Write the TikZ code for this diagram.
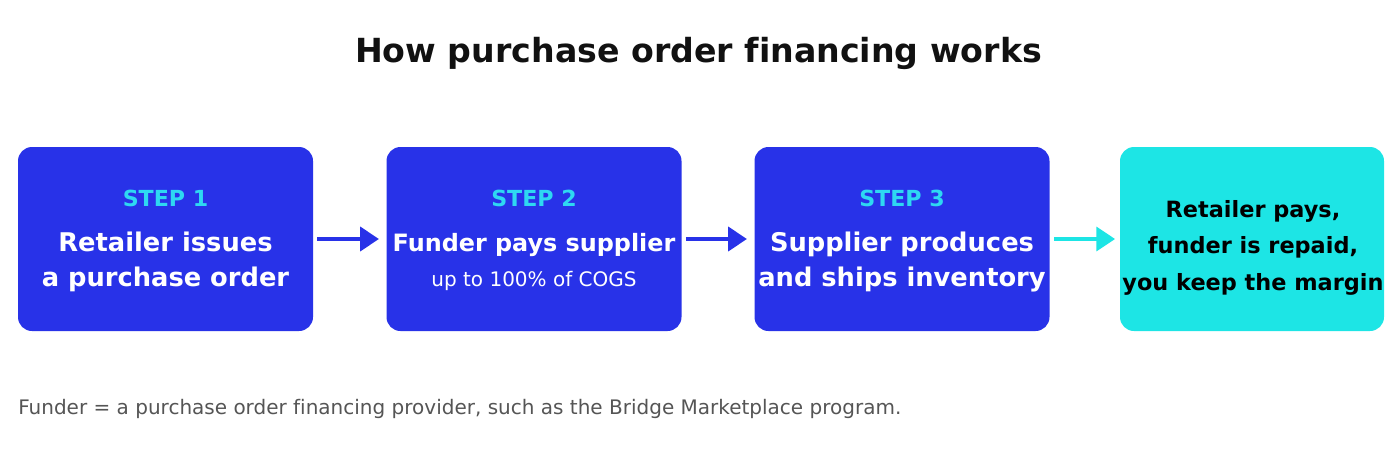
\documentclass[tikz,border=0pt]{standalone}
\usepackage{fontspec}
\setmainfont{DejaVu Sans}[Ligatures={NoCommon}]
\usetikzlibrary{arrows.meta,positioning}
\definecolor{poblue}{HTML}{2832E8}
\definecolor{pocyan}{HTML}{1DE5E5}
\definecolor{polabel}{HTML}{2ED8F2}
\definecolor{potitle}{HTML}{111111}
\definecolor{ponote}{HTML}{555555}

\begin{document}
\begin{tikzpicture}
  [x=0.75pt, y=-0.75pt,
   box/.style={fill=poblue, rounded corners=10.5pt, minimum width=221.25pt, minimum height=138pt, inner sep=0pt},
   lastbox/.style={box, fill=pocyan, minimum width=198pt},
   steplabel/.style={anchor=base, text=polabel, font=\bfseries\fontsize{16.6}{19}\selectfont},
   maintext/.style={anchor=base, text=white, font=\bfseries\fontsize{19.3}{23}\selectfont},
   smalltext/.style={maintext, font=\bfseries\fontsize{17.9}{21}\selectfont},
   subtext/.style={anchor=base, text=white, font=\fontsize{15}{18}\selectfont},
   endtext/.style={anchor=base, text=black, font=\bfseries\fontsize{16.8}{20}\selectfont},
   flow/.style={line width=2.6pt, -{Triangle[length=14pt, width=18pt]}, shorten >=0.5pt}]
  \useasboundingbox (0,0) rectangle (1400,461);
  % title
  \node (title) [anchor=base, text=potitle, font=\bfseries\fontsize{24.9}{30}\selectfont] at (698.5,62.3) {How purchase order financing works};
  % boxes
  \node (s1) [box] at (165.5,239) {};
  \node (s2) [box] at (534,239) {};
  \node (s3) [box] at (902,239) {};
  \node (s4) [lastbox] at (1252,239) {};
  % step 1
  \node (l1) [steplabel] at (165.5,206.7) {STEP 1};
  \node (t1a) [maintext] at (165.5,251) {Retailer issues};
  \node (t1b) [maintext] at (165.5,286) {a purchase order};
  % step 2
  \node (l2) [steplabel] at (534,206.7) {STEP 2};
  \node (t2a) [smalltext] at (534,251) {Funder pays supplier};
  \node (t2b) [subtext] at (534,286) {up to 100\% of COGS};
  % step 3
  \node (l3) [steplabel] at (902,206.7) {STEP 3};
  \node (t3a) [maintext] at (902,251) {Supplier produces};
  \node (t3b) [maintext] at (902,286) {and ships inventory};
  % result
  \node (t4a) [endtext] at (1253,217.3) {Retailer pays,};
  \node (t4b) [endtext] at (1253,253.5) {funder is repaid,};
  \node (t4c) [endtext] at (1253,290) {you keep the margin};
  % arrows
  \draw [flow, poblue] ([xshift=3pt]s1.east) -- ([xshift=-5pt]s2.west);
  \draw [flow, poblue] ([xshift=3pt]s2.east) -- ([xshift=-5pt]s3.west);
  \draw [flow, pocyan] ([xshift=3.5pt]s3.east) -- ([xshift=-3pt]s4.west);
  % note
  \node (note) [anchor=base west, inner sep=0pt, text=ponote, font=\fontsize{15}{18}\selectfont] at (18,414.3) {Funder = a purchase order financing provider, such as the Bridge Marketplace program.};
\end{tikzpicture}
\end{document}
